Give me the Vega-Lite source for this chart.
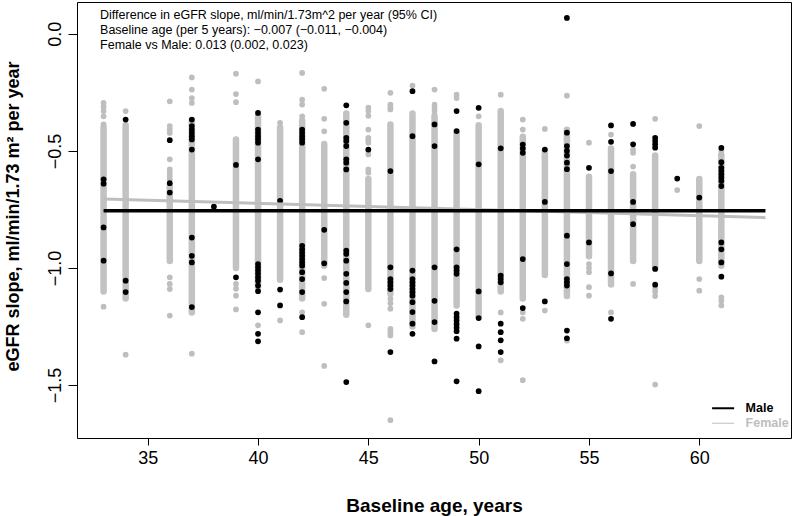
{
  "$schema": "https://vega.github.io/schema/vega-lite/v6.json",
  "width": 714,
  "height": 436,
  "autosize": {"type": "none"},
  "padding": {"left": 77, "top": 2, "right": 3, "bottom": 78},
  "background": "white",
  "view": {"stroke": "black", "strokeWidth": 1},
  "config": {
    "font": "Liberation Sans",
    "axis": {"grid": false, "domain": false, "tickColor": "black", "labelColor": "black", "titleColor": "black", "labelFont": "Liberation Sans", "titleFont": "Liberation Sans", "labelFlush": false, "labelOverlap": false}
  },
  "datasets": {
    "cores": [
      {"a":33,"lo":-1.10,"hi":-0.40},{"a":34,"lo":-1.13,"hi":-0.39},{"a":36,"lo":-0.97,"hi":-0.65},
      {"a":37,"lo":-1.19,"hi":-0.37},{"a":39,"lo":-1.00,"hi":-0.451},{"a":40,"lo":-1.08,"hi":-0.35},
      {"a":41,"lo":-1.05,"hi":-0.40},{"a":42,"lo":-1.13,"hi":-0.37},{"a":43,"lo":-0.99,"hi":-0.47},
      {"a":44,"lo":-1.20,"hi":-0.34},{"a":45,"lo":-1.09,"hi":-0.62},{"a":46,"lo":-1.11,"hi":-0.387},
      {"a":47,"lo":-1.25,"hi":-0.34},{"a":48,"lo":-1.26,"hi":-0.35},{"a":49,"lo":-1.16,"hi":-0.42},
      {"a":50,"lo":-1.21,"hi":-0.39},{"a":51,"lo":-1.10,"hi":-0.33},{"a":52,"lo":-1.13,"hi":-0.44},
      {"a":53,"lo":-1.03,"hi":-0.50},{"a":54,"lo":-1.12,"hi":-0.41},{"a":55,"lo":-0.95,"hi":-0.61},
      {"a":56,"lo":-1.07,"hi":-0.49},{"a":57,"lo":-0.97,"hi":-0.60},{"a":58,"lo":-1.00,"hi":-0.52},
      {"a":60,"lo":-0.97,"hi":-0.62},{"a":61,"lo":-0.99,"hi":-0.52}
    ],
    "pts": [
      {"a":33,"v":-0.295,"s":"F"},{"a":33,"v":-0.312,"s":"F"},{"a":33,"v":-0.33,"s":"F"},{"a":33,"v":-0.352,"s":"F"},{"a":33,"v":-0.387,"s":"F"},{"a":33,"v":-1.165,"s":"F"},
      {"a":34,"v":-0.33,"s":"F"},{"a":34,"v":-1.37,"s":"F"},
      {"a":36,"v":-0.288,"s":"F"},{"a":36,"v":-0.394,"s":"F"},{"a":36,"v":-0.409,"s":"F"},{"a":36,"v":-0.423,"s":"F"},{"a":36,"v":-0.536,"s":"F"},{"a":36,"v":-0.579,"s":"F"},{"a":36,"v":-0.593,"s":"F"},{"a":36,"v":-0.607,"s":"F"},{"a":36,"v":-0.621,"s":"F"},{"a":36,"v":-1.04,"s":"F"},{"a":36,"v":-1.068,"s":"F"},{"a":36,"v":-1.09,"s":"F"},{"a":36,"v":-1.203,"s":"F"},
      {"a":37,"v":-0.186,"s":"F"},{"a":37,"v":-0.238,"s":"F"},{"a":37,"v":-0.274,"s":"F"},{"a":37,"v":-0.295,"s":"F"},{"a":37,"v":-1.366,"s":"F"},
      {"a":39,"v":-0.17,"s":"F"},{"a":39,"v":-0.257,"s":"F"},{"a":39,"v":-0.292,"s":"F"},{"a":39,"v":-1.068,"s":"F"},{"a":39,"v":-1.089,"s":"F"},{"a":39,"v":-1.118,"s":"F"},{"a":39,"v":-1.177,"s":"F"},
      {"a":40,"v":-0.203,"s":"F"},{"a":40,"v":-1.245,"s":"F"},
      {"a":41,"v":-0.38,"s":"F"},{"a":41,"v":-1.224,"s":"F"},
      {"a":42,"v":-0.167,"s":"F"},{"a":42,"v":-0.281,"s":"F"},{"a":42,"v":-0.302,"s":"F"},{"a":42,"v":-0.352,"s":"F"},{"a":42,"v":-1.19,"s":"F"},{"a":42,"v":-1.274,"s":"F"},
      {"a":43,"v":-0.235,"s":"F"},{"a":43,"v":-0.363,"s":"F"},{"a":43,"v":-0.416,"s":"F"},{"a":43,"v":-1.043,"s":"F"},{"a":43,"v":-1.153,"s":"F"},{"a":43,"v":-1.418,"s":"F"},
      {"a":45,"v":-0.315,"s":"F"},{"a":45,"v":-0.33,"s":"F"},{"a":45,"v":-0.35,"s":"F"},{"a":45,"v":-0.409,"s":"F"},{"a":45,"v":-0.444,"s":"F"},{"a":45,"v":-0.455,"s":"F"},{"a":45,"v":-0.465,"s":"F"},{"a":45,"v":-0.50,"s":"F"},{"a":45,"v":-0.515,"s":"F"},{"a":45,"v":-0.579,"s":"F"},{"a":45,"v":-0.593,"s":"F"},{"a":45,"v":-1.245,"s":"F"},
      {"a":46,"v":-0.252,"s":"F"},{"a":46,"v":-0.302,"s":"F"},{"a":46,"v":-0.313,"s":"F"},{"a":46,"v":-0.323,"s":"F"},{"a":46,"v":-1.131,"s":"F"},{"a":46,"v":-1.15,"s":"F"},{"a":46,"v":-1.174,"s":"F"},{"a":46,"v":-1.26,"s":"F"},{"a":46,"v":-1.274,"s":"F"},{"a":46,"v":-1.288,"s":"F"},{"a":46,"v":-1.65,"s":"F"},
      {"a":47,"v":-0.221,"s":"F"},
      {"a":48,"v":-0.238,"s":"F"},{"a":48,"v":-0.302,"s":"F"},{"a":48,"v":-0.316,"s":"F"},{"a":48,"v":-0.33,"s":"F"},
      {"a":49,"v":-0.26,"s":"F"},{"a":49,"v":-0.274,"s":"F"},
      {"a":50,"v":-0.352,"s":"F"},
      {"a":51,"v":-0.26,"s":"F"},{"a":51,"v":-1.19,"s":"F"},{"a":51,"v":-1.394,"s":"F"},
      {"a":52,"v":-0.366,"s":"F"},{"a":52,"v":-0.409,"s":"F"},{"a":52,"v":-1.19,"s":"F"},{"a":52,"v":-1.217,"s":"F"},{"a":52,"v":-1.479,"s":"F"},
      {"a":53,"v":-0.406,"s":"F"},{"a":53,"v":-1.182,"s":"F"},
      {"a":54,"v":-0.264,"s":"F"},{"a":54,"v":-1.31,"s":"F"},
      {"a":55,"v":-0.465,"s":"F"},{"a":55,"v":-0.983,"s":"F"},{"a":55,"v":-1.0,"s":"F"},{"a":55,"v":-1.018,"s":"F"},{"a":55,"v":-1.082,"s":"F"},{"a":55,"v":-1.118,"s":"F"},
      {"a":56,"v":-0.43,"s":"F"},{"a":56,"v":-1.19,"s":"F"},
      {"a":57,"v":-0.494,"s":"F"},{"a":57,"v":-0.508,"s":"F"},{"a":57,"v":-0.567,"s":"F"},{"a":57,"v":-1.068,"s":"F"},
      {"a":58,"v":-0.363,"s":"F"},{"a":58,"v":-1.086,"s":"F"},{"a":58,"v":-1.10,"s":"F"},{"a":58,"v":-1.12,"s":"F"},{"a":58,"v":-1.498,"s":"F"},
      {"a":59,"v":-0.667,"s":"F"},
      {"a":60,"v":-0.394,"s":"F"},{"a":60,"v":-1.047,"s":"F"},{"a":60,"v":-1.097,"s":"F"},
      {"a":61,"v":-0.50,"s":"F"},{"a":61,"v":-0.515,"s":"F"},{"a":61,"v":-1.125,"s":"F"},{"a":61,"v":-1.14,"s":"F"},{"a":61,"v":-1.16,"s":"F"},
      {"a":33,"v":-0.621,"s":"M"},{"a":33,"v":-0.64,"s":"M"},{"a":33,"v":-0.827,"s":"M"},{"a":33,"v":-0.969,"s":"M"},
      {"a":34,"v":-0.366,"s":"M"},{"a":34,"v":-1.054,"s":"M"},{"a":34,"v":-1.103,"s":"M"},
      {"a":36,"v":-0.454,"s":"M"},{"a":36,"v":-0.638,"s":"M"},{"a":36,"v":-0.678,"s":"M"},
      {"a":37,"v":-0.366,"s":"M"},{"a":37,"v":-0.394,"s":"M"},{"a":37,"v":-0.409,"s":"M"},{"a":37,"v":-0.423,"s":"M"},{"a":37,"v":-0.437,"s":"M"},{"a":37,"v":-0.451,"s":"M"},{"a":37,"v":-0.494,"s":"M"},{"a":37,"v":-0.87,"s":"M"},{"a":37,"v":-0.948,"s":"M"},{"a":37,"v":-0.976,"s":"M"},{"a":37,"v":-1.167,"s":"M"},
      {"a":38,"v":-0.738,"s":"M"},
      {"a":39,"v":-0.56,"s":"M"},{"a":39,"v":-1.04,"s":"M"},
      {"a":40,"v":-0.338,"s":"M"},{"a":40,"v":-0.409,"s":"M"},{"a":40,"v":-0.423,"s":"M"},{"a":40,"v":-0.437,"s":"M"},{"a":40,"v":-0.451,"s":"M"},{"a":40,"v":-0.465,"s":"M"},{"a":40,"v":-0.536,"s":"M"},{"a":40,"v":-0.983,"s":"M"},{"a":40,"v":-0.997,"s":"M"},{"a":40,"v":-1.011,"s":"M"},{"a":40,"v":-1.025,"s":"M"},{"a":40,"v":-1.04,"s":"M"},{"a":40,"v":-1.054,"s":"M"},{"a":40,"v":-1.075,"s":"M"},{"a":40,"v":-1.099,"s":"M"},{"a":40,"v":-1.189,"s":"M"},{"a":40,"v":-1.281,"s":"M"},{"a":40,"v":-1.313,"s":"M"},
      {"a":41,"v":-0.713,"s":"M"},{"a":41,"v":-1.092,"s":"M"},{"a":41,"v":-1.16,"s":"M"},
      {"a":42,"v":-0.409,"s":"M"},{"a":42,"v":-0.423,"s":"M"},{"a":42,"v":-0.437,"s":"M"},{"a":42,"v":-0.451,"s":"M"},{"a":42,"v":-0.465,"s":"M"},{"a":42,"v":-0.905,"s":"M"},{"a":42,"v":-0.92,"s":"M"},{"a":42,"v":-0.934,"s":"M"},{"a":42,"v":-0.948,"s":"M"},{"a":42,"v":-0.962,"s":"M"},{"a":42,"v":-0.976,"s":"M"},{"a":42,"v":-0.99,"s":"M"},{"a":42,"v":-1.018,"s":"M"},{"a":42,"v":-1.047,"s":"M"},{"a":42,"v":-1.103,"s":"M"},{"a":42,"v":-1.21,"s":"M"},
      {"a":43,"v":-0.837,"s":"M"},{"a":43,"v":-0.98,"s":"M"},
      {"a":44,"v":-0.305,"s":"M"},{"a":44,"v":-0.38,"s":"M"},{"a":44,"v":-0.444,"s":"M"},{"a":44,"v":-0.458,"s":"M"},{"a":44,"v":-0.479,"s":"M"},{"a":44,"v":-0.536,"s":"M"},{"a":44,"v":-0.55,"s":"M"},{"a":44,"v":-0.579,"s":"M"},{"a":44,"v":-0.926,"s":"M"},{"a":44,"v":-0.94,"s":"M"},{"a":44,"v":-0.969,"s":"M"},{"a":44,"v":-1.025,"s":"M"},{"a":44,"v":-1.064,"s":"M"},{"a":44,"v":-1.103,"s":"M"},{"a":44,"v":-1.143,"s":"M"},{"a":44,"v":-1.487,"s":"M"},
      {"a":45,"v":-0.494,"s":"M"},
      {"a":46,"v":-0.586,"s":"M"},{"a":46,"v":-0.997,"s":"M"},{"a":46,"v":-1.047,"s":"M"},{"a":46,"v":-1.061,"s":"M"},{"a":46,"v":-1.075,"s":"M"},{"a":46,"v":-1.09,"s":"M"},{"a":46,"v":-1.359,"s":"M"},
      {"a":47,"v":-0.245,"s":"M"},{"a":47,"v":-0.437,"s":"M"},{"a":47,"v":-1.011,"s":"M"},{"a":47,"v":-1.047,"s":"M"},{"a":47,"v":-1.061,"s":"M"},{"a":47,"v":-1.075,"s":"M"},{"a":47,"v":-1.09,"s":"M"},{"a":47,"v":-1.104,"s":"M"},{"a":47,"v":-1.118,"s":"M"},{"a":47,"v":-1.146,"s":"M"},{"a":47,"v":-1.188,"s":"M"},{"a":47,"v":-1.238,"s":"M"},{"a":47,"v":-1.281,"s":"M"},
      {"a":48,"v":-0.387,"s":"M"},{"a":48,"v":-0.479,"s":"M"},{"a":48,"v":-0.997,"s":"M"},{"a":48,"v":-1.14,"s":"M"},{"a":48,"v":-1.231,"s":"M"},{"a":48,"v":-1.399,"s":"M"},
      {"a":49,"v":-0.33,"s":"M"},{"a":49,"v":-0.415,"s":"M"},{"a":49,"v":-0.92,"s":"M"},{"a":49,"v":-0.997,"s":"M"},{"a":49,"v":-1.011,"s":"M"},{"a":49,"v":-1.025,"s":"M"},{"a":49,"v":-1.195,"s":"M"},{"a":49,"v":-1.21,"s":"M"},{"a":49,"v":-1.225,"s":"M"},{"a":49,"v":-1.24,"s":"M"},{"a":49,"v":-1.255,"s":"M"},{"a":49,"v":-1.27,"s":"M"},{"a":49,"v":-1.302,"s":"M"},{"a":49,"v":-1.484,"s":"M"},
      {"a":50,"v":-0.316,"s":"M"},{"a":50,"v":-0.557,"s":"M"},{"a":50,"v":-1.10,"s":"M"},{"a":50,"v":-1.214,"s":"M"},{"a":50,"v":-1.335,"s":"M"},{"a":50,"v":-1.526,"s":"M"},
      {"a":51,"v":-0.489,"s":"M"},{"a":51,"v":-1.033,"s":"M"},{"a":51,"v":-1.047,"s":"M"},{"a":51,"v":-1.061,"s":"M"},{"a":51,"v":-1.238,"s":"M"},{"a":51,"v":-1.274,"s":"M"},{"a":51,"v":-1.309,"s":"M"},{"a":51,"v":-1.359,"s":"M"},
      {"a":52,"v":-0.473,"s":"M"},{"a":52,"v":-0.49,"s":"M"},{"a":52,"v":-0.508,"s":"M"},{"a":52,"v":-0.962,"s":"M"},{"a":52,"v":-1.171,"s":"M"},
      {"a":53,"v":-0.494,"s":"M"},{"a":53,"v":-0.718,"s":"M"},{"a":53,"v":-1.143,"s":"M"},
      {"a":54,"v":0.068,"s":"M"},{"a":54,"v":-0.422,"s":"M"},{"a":54,"v":-0.479,"s":"M"},{"a":54,"v":-0.50,"s":"M"},{"a":54,"v":-0.52,"s":"M"},{"a":54,"v":-0.55,"s":"M"},{"a":54,"v":-0.578,"s":"M"},{"a":54,"v":-0.862,"s":"M"},{"a":54,"v":-0.983,"s":"M"},{"a":54,"v":-1.047,"s":"M"},{"a":54,"v":-1.061,"s":"M"},{"a":54,"v":-1.075,"s":"M"},{"a":54,"v":-1.267,"s":"M"},{"a":54,"v":-1.30,"s":"M"},
      {"a":55,"v":-0.572,"s":"M"},{"a":55,"v":-0.891,"s":"M"},
      {"a":56,"v":-0.391,"s":"M"},{"a":56,"v":-0.461,"s":"M"},{"a":56,"v":-0.586,"s":"M"},{"a":56,"v":-1.023,"s":"M"},{"a":56,"v":-1.217,"s":"M"},
      {"a":57,"v":-0.385,"s":"M"},{"a":57,"v":-0.472,"s":"M"},{"a":57,"v":-0.718,"s":"M"},{"a":57,"v":-0.813,"s":"M"},
      {"a":58,"v":-0.444,"s":"M"},{"a":58,"v":-0.458,"s":"M"},{"a":58,"v":-0.472,"s":"M"},{"a":58,"v":-0.486,"s":"M"},{"a":58,"v":-1.004,"s":"M"},{"a":58,"v":-1.071,"s":"M"},
      {"a":59,"v":-0.618,"s":"M"},
      {"a":60,"v":-0.699,"s":"M"},
      {"a":61,"v":-0.487,"s":"M"},{"a":61,"v":-0.548,"s":"M"},{"a":61,"v":-0.572,"s":"M"},{"a":61,"v":-0.586,"s":"M"},{"a":61,"v":-0.60,"s":"M"},{"a":61,"v":-0.614,"s":"M"},{"a":61,"v":-0.628,"s":"M"},{"a":61,"v":-0.65,"s":"M"},{"a":61,"v":-0.891,"s":"M"},{"a":61,"v":-0.92,"s":"M"},{"a":61,"v":-0.976,"s":"M"},{"a":61,"v":-1.037,"s":"M"}
    ],
    "fit": [
      {"a":33,"v":-0.705,"s":"F"},{"a":63,"v":-0.785,"s":"F"},
      {"a":33,"v":-0.755,"s":"M"},{"a":63,"v":-0.756,"s":"M"}
    ],
    "notes": [
      {"a":32.84,"v":0.0805,"t":"Difference in eGFR slope, ml/min/1.73m^2 per year (95% CI)"},
      {"a":32.84,"v":0.0143,"t":"Baseline age (per 5 years): \u22120.007 (\u22120.011, \u22120.004)"},
      {"a":32.84,"v":-0.0494,"t":"Female vs Male: 0.013 (0.002, 0.023)"}
    ],
    "key": [
      {"a":60.58,"a2":61.58,"la":62.1,"v":-1.599,"s":"M","t":"Male"},
      {"a":60.58,"a2":61.58,"la":62.1,"v":-1.663,"s":"F","t":"Female"}
    ]
  },
  "layer": [
    {
      "data": {"name": "cores"},
      "mark": {"type": "rule", "strokeWidth": 6.5, "strokeCap": "round", "color": "#c2c2c2"},
      "encoding": {
        "x": {"field": "a", "type": "quantitative", "scale": {"domain": [31.795, 64.157], "nice": false, "zero": false},
              "axis": {"values": [35,40,45,50,55,60], "tickSize": 7, "labelFontSize": 18, "labelPadding": 4, "title": "Baseline age, years", "titleFontSize": 19, "titleFontWeight": "bold", "titleY": 73, "titleBaseline": "alphabetic"}},
        "y": {"field": "lo", "type": "quantitative", "scale": {"domain": [-1.726, 0.136], "nice": false, "zero": false},
              "axis": {"values": [-1.5,-1,-0.5,0], "format": ".1f", "tickSize": 9, "labelFontSize": 18, "labelAngle": 270, "labelAlign": "center", "labelBaseline": "alphabetic", "labelPadding": 8, "title": "eGFR slope, ml/min/1.73 m\u00b2 per year", "titleFontSize": 18, "titleFontWeight": "bold", "titleAngle": 270, "titleX": -63.5, "titleY": 214, "titleAlign": "center", "titleBaseline": "middle"}},
        "y2": {"field": "hi"}
      }
    },
    {
      "data": {"name": "pts"},
      "transform": [{"filter": "datum.s === 'F'"}],
      "mark": {"type": "circle", "size": 33, "opacity": 1},
      "encoding": {
        "x": {"field": "a", "type": "quantitative"},
        "y": {"field": "v", "type": "quantitative"},
        "color": {"field": "s", "type": "nominal", "scale": {"domain": ["M","F"], "range": ["#000000","#bebebe"]}, "legend": null}
      }
    },
    {
      "data": {"name": "pts"},
      "transform": [{"filter": "datum.s === 'M'"}],
      "mark": {"type": "circle", "size": 33, "opacity": 1},
      "encoding": {
        "x": {"field": "a", "type": "quantitative"},
        "y": {"field": "v", "type": "quantitative"},
        "color": {"field": "s", "type": "nominal", "legend": null}
      }
    },
    {
      "data": {"name": "fit"},
      "transform": [{"filter": "datum.s === 'F'"}],
      "mark": {"type": "line", "strokeWidth": 3},
      "encoding": {
        "x": {"field": "a", "type": "quantitative"},
        "y": {"field": "v", "type": "quantitative"},
        "color": {"field": "s", "type": "nominal", "legend": null}
      }
    },
    {
      "data": {"name": "fit"},
      "transform": [{"filter": "datum.s === 'M'"}],
      "mark": {"type": "line", "strokeWidth": 3.5},
      "encoding": {
        "x": {"field": "a", "type": "quantitative"},
        "y": {"field": "v", "type": "quantitative"},
        "color": {"field": "s", "type": "nominal", "legend": null}
      }
    },
    {
      "data": {"name": "notes"},
      "mark": {"type": "text", "align": "left", "baseline": "middle", "fontSize": 12.5, "font": "Liberation Sans", "color": "black"},
      "encoding": {
        "x": {"field": "a", "type": "quantitative"},
        "y": {"field": "v", "type": "quantitative"},
        "text": {"field": "t"}
      }
    },
    {
      "data": {"name": "key"},
      "mark": {"type": "rule"},
      "encoding": {
        "x": {"field": "a", "type": "quantitative"},
        "x2": {"field": "a2"},
        "y": {"field": "v", "type": "quantitative"},
        "color": {"field": "s", "type": "nominal", "legend": null},
        "strokeWidth": {"field": "s", "type": "nominal", "scale": {"domain": ["M","F"], "range": [2, 1]}, "legend": null}
      }
    },
    {
      "data": {"name": "key"},
      "mark": {"type": "text", "align": "left", "baseline": "middle", "fontSize": 12.5, "fontWeight": "bold", "font": "Liberation Sans"},
      "encoding": {
        "x": {"field": "la", "type": "quantitative"},
        "y": {"field": "v", "type": "quantitative"},
        "text": {"field": "t"},
        "color": {"field": "s", "type": "nominal", "legend": null}
      }
    }
  ]
}
